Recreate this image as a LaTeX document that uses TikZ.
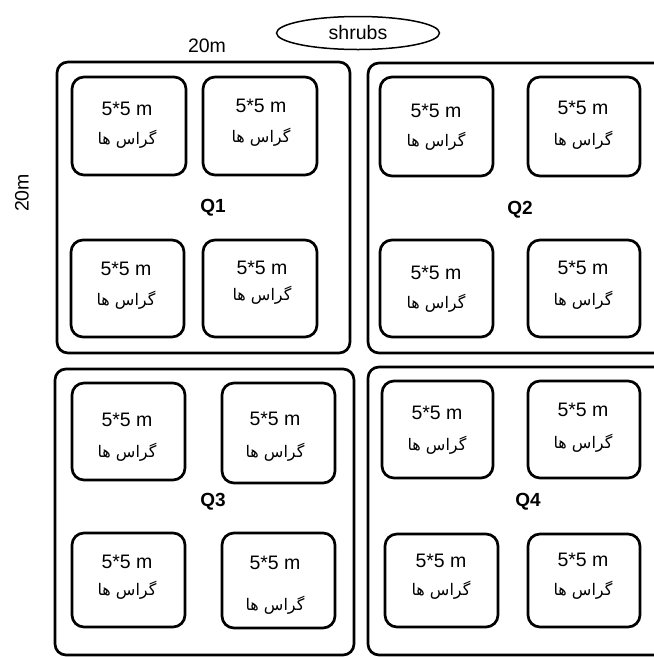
\documentclass[tikz,border=0pt]{standalone}
\usepackage{fontspec}
\setmainfont{Liberation Sans}
\newfontfamily\arabicfont[Script=Arabic]{DejaVu Sans}
\TeXXeTstate=1
\usetikzlibrary{shapes.geometric}
\tikzset{
  quadbox/.style={draw, line width=2.7pt, rounded corners=11pt, inner sep=0pt},
  plotbox/.style={draw, line width=2.7pt, rounded corners=12pt, inner sep=0pt},
  dimtxt/.style={inner sep=0pt, font=\fontsize{19.5}{21}\selectfont},
  fatxt/.style={inner sep=0pt, font=\fontsize{16}{18}\arabicfont},
  qlabel/.style={inner sep=0pt, font=\fontsize{19}{21}\selectfont\bfseries},
  plain/.style={inner sep=0pt, font=\fontsize{19.5}{21}\selectfont}
}
\newcommand\myquad[5]{%
  \node[quadbox, minimum width={#4-#2}, minimum height={#5-#3}] (#1) at ({(#2+#4)/2},{(#3+#5)/2}) {};}
\newcommand\myplot[8]{%
  \node[plotbox, minimum width={#4-#2}, minimum height={#5-#3}] (#1) at ({(#2+#4)/2},{(#3+#5)/2}) {};
  \node[dimtxt] (#1-a) at (#6,#7) {5*5 m};
  \node[fatxt] (#1-b) at (#6,#8) {\beginR گراس ها\endR};}
\begin{document}
\begin{tikzpicture}[x=1pt,y=-1pt]
\useasboundingbox (0,0) rectangle (654,657);
\clip (0,0) rectangle (654,657);
\fill[white] (0,0) rectangle (654,657);
% quadrats
\myquad{Q1box}{57}{62}{350}{353}
\myquad{Q2box}{368}{63}{690}{353}
\myquad{Q3box}{55}{369}{354}{655}
\myquad{Q4box}{368}{367}{690}{655}
% Q1
\myplot{p11}{72}{77}{186}{175}{127}{109}{139}
\myplot{p12}{203}{77}{317}{175}{261}{106}{137}
\myplot{p13}{71}{240}{184}{337}{126}{269}{300}
\myplot{p14}{203}{240}{317}{337}{262}{268}{295}
% Q2
\myplot{p21}{380}{77}{493}{176}{436}{111}{141}
\myplot{p22}{528}{77}{640}{176}{583}{108}{140}
\myplot{p23}{380}{240}{493}{337}{436}{273}{303}
\myplot{p24}{528}{240}{640}{337}{583}{268}{300}
% Q3
\myplot{p31}{72}{383}{185}{480}{127}{420}{452}
\myplot{p32}{222}{383}{335}{483}{275}{419}{452}
\myplot{p33}{72}{533}{185}{627}{127}{562}{590}
\myplot{p34}{222}{533}{335}{628}{275}{563}{605}
% Q4
\myplot{p41}{382}{381}{493}{478}{437}{413}{445}
\myplot{p42}{528}{381}{640}{478}{583}{410}{443}
\myplot{p43}{385}{534}{498}{627}{441}{561}{590}
\myplot{p44}{528}{534}{640}{627}{583}{560}{590}
% labels
\node[qlabel] (q1) at (213,208) {Q1};
\node[qlabel] (q2) at (520,210) {Q2};
\node[qlabel] (q3) at (213,502) {Q3};
\node[qlabel] (q4) at (528,502) {Q4};
\node[plain] (top20) at (207,46) {20m};
\node[plain, rotate=90] (side20) at (22,193) {20m};
\node[draw, ellipse, line width=1.5pt, minimum width=163pt, minimum height=33pt, inner sep=0pt, font=\fontsize{19.5}{21}\selectfont] (shrubs) at (358,33) {shrubs};
\end{tikzpicture}
\end{document}
